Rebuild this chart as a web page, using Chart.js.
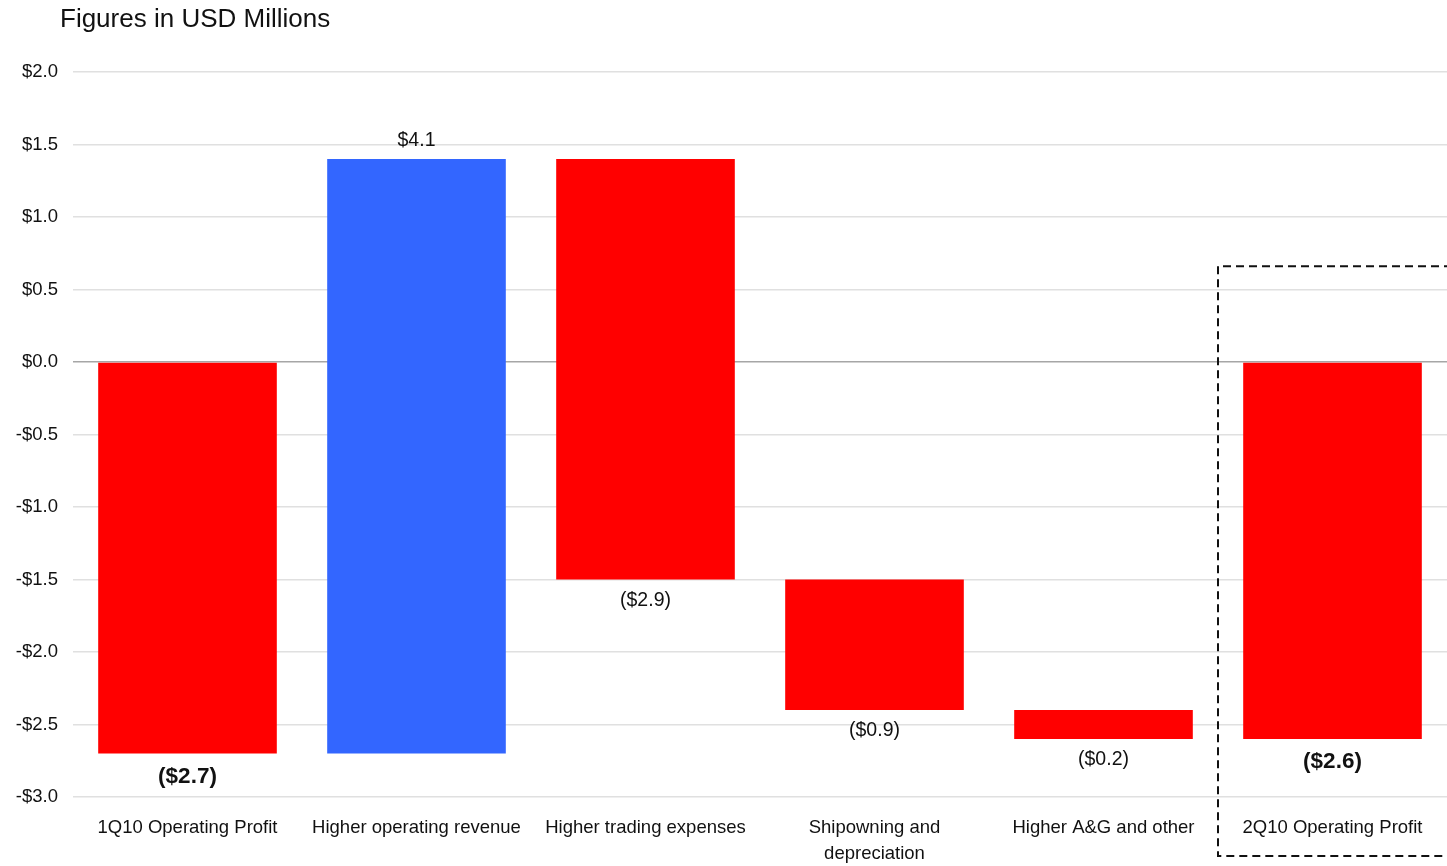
<!DOCTYPE html>
<html>
<head>
<meta charset="utf-8">
<script src="https://cdn.jsdelivr.net/npm/chart.js@4"></script>
<style>
  html, body { margin: 0; padding: 0; background: #fff; }
  #wrap { position: relative; width: 1447px; height: 866px; }
  #title { position: absolute; left: 60px; top: 3px; font: 26px "Liberation Sans", Arial, sans-serif; color: #111; }
</style>
</head>
<body>
<div id="wrap">
  <div id="title">Figures in USD Millions</div>
  <canvas id="chart" width="1447" height="866"></canvas>
</div>
<script>
// waterfall steps, USD millions
const categories = ['1Q10 Operating Profit', 'Higher operating revenue', 'Higher trading expenses',
  ['Shipowning and', 'depreciation'], 'Higher A&G and other', '2Q10 Operating Profit'];
const barStart = [0, -2.7, 1.4, -1.5, -2.4, 0];
const barEnd = [-2.7, 1.4, -1.5, -2.4, -2.6, -2.6];
const valueLabels = ['($2.7)', '$4.1', '($2.9)', '($0.9)', '($0.2)', '($2.6)'];
const totalBars = [0, 5];
const yTicks = [2.0, 1.5, 1.0, 0.5, 0.0, -0.5, -1.0, -1.5, -2.0, -2.5, -3.0];

document.addEventListener('DOMContentLoaded', function() {
    const font = '"Liberation Sans", Arial, sans-serif';

    const barColors = barStart.map((s, i) => barEnd[i] > s ? '#3366ff' : '#ff0000');

    const valueLabelPlugin = {
        id: 'valueLabels',
        afterDatasetsDraw(chart) {
            const ctx = chart.ctx;
            const meta = chart.getDatasetMeta(0);
            ctx.save();
            ctx.fillStyle = '#111';
            ctx.textAlign = 'center';
            meta.data.forEach((bar, i) => {
                const bold = totalBars.includes(i);
                ctx.font = (bold ? 'bold 22.5px ' : '19.5px ') + font;
                const up = barEnd[i] > barStart[i];
                const props = bar.getProps(['x', 'y', 'base'], true);
                const top = Math.min(props.y, props.base);
                const bottom = Math.max(props.y, props.base);
                if (up) {
                    ctx.textBaseline = 'bottom';
                    ctx.fillText(valueLabels[i], props.x, top - 9);
                } else {
                    ctx.textBaseline = 'top';
                    ctx.fillText(valueLabels[i], props.x, bottom + (bold ? 12 : 11));
                }
            });
            ctx.restore();
        }
    };

    // dashed box around the closing total
    const boxPlugin = {
        id: 'totalBox',
        afterDraw(chart) {
            const ctx = chart.ctx;
            const x = chart.scales.x;
            const y = chart.scales.y;
            const half = (x.getPixelForValue(1) - x.getPixelForValue(0)) / 2;
            const left = x.getPixelForValue(5) - half;
            const top = y.getPixelForValue(0.66);
            const bottom = chart.height - 10;
            ctx.save();
            ctx.strokeStyle = '#111';
            ctx.lineWidth = 2;
            ctx.setLineDash([8, 5]);
            ctx.beginPath();
            ctx.moveTo(chart.width + 5, top);
            ctx.lineTo(left, top);
            ctx.lineTo(left, bottom);
            ctx.lineTo(chart.width + 5, bottom);
            ctx.stroke();
            ctx.restore();
        }
    };

    new Chart(document.getElementById('chart').getContext('2d'), {
        type: 'bar',
        data: {
            labels: categories,
            datasets: [{
                data: barStart.map((s, i) => [s, barEnd[i]]),
                backgroundColor: barColors,
                borderWidth: 0,
                barPercentage: 0.78,
                categoryPercentage: 1.0
            }]
        },
        options: {
            responsive: false,
            animation: false,
            layout: { padding: { top: 72, right: 0, bottom: 0, left: 0 } },
            plugins: {
                legend: { display: false },
                tooltip: { enabled: false }
            },
            scales: {
                x: {
                    grid: { display: false, drawTicks: false },
                    border: { display: false },
                    ticks: {
                        color: '#111',
                        font: { family: font, size: 18.5, lineHeight: 1.42 },
                        padding: 18,
                        maxRotation: 0,
                        autoSkip: false
                    },
                    afterFit(scale) { scale.height = 69; }
                },
                y: {
                    min: -3,
                    max: 2,
                    afterBuildTicks(scale) { scale.ticks = yTicks.map(v => ({ value: v })); },
                    grid: {
                        drawTicks: false,
                        lineWidth: 1.5,
                        color: ctx => ctx.tick && ctx.tick.value === 0 ? '#a6a6a6' : '#e0e0e0'
                    },
                    border: { display: false },
                    ticks: {
                        color: '#111',
                        font: { family: font, size: 18.5 },
                        padding: 15,
                        callback: v => (v < 0 ? '-$' : '$') + Math.abs(v).toFixed(1)
                    },
                    afterFit(scale) { scale.width = 73; }
                }
            }
        },
        plugins: [valueLabelPlugin, boxPlugin]
    });
});
</script>
</body>
</html>
